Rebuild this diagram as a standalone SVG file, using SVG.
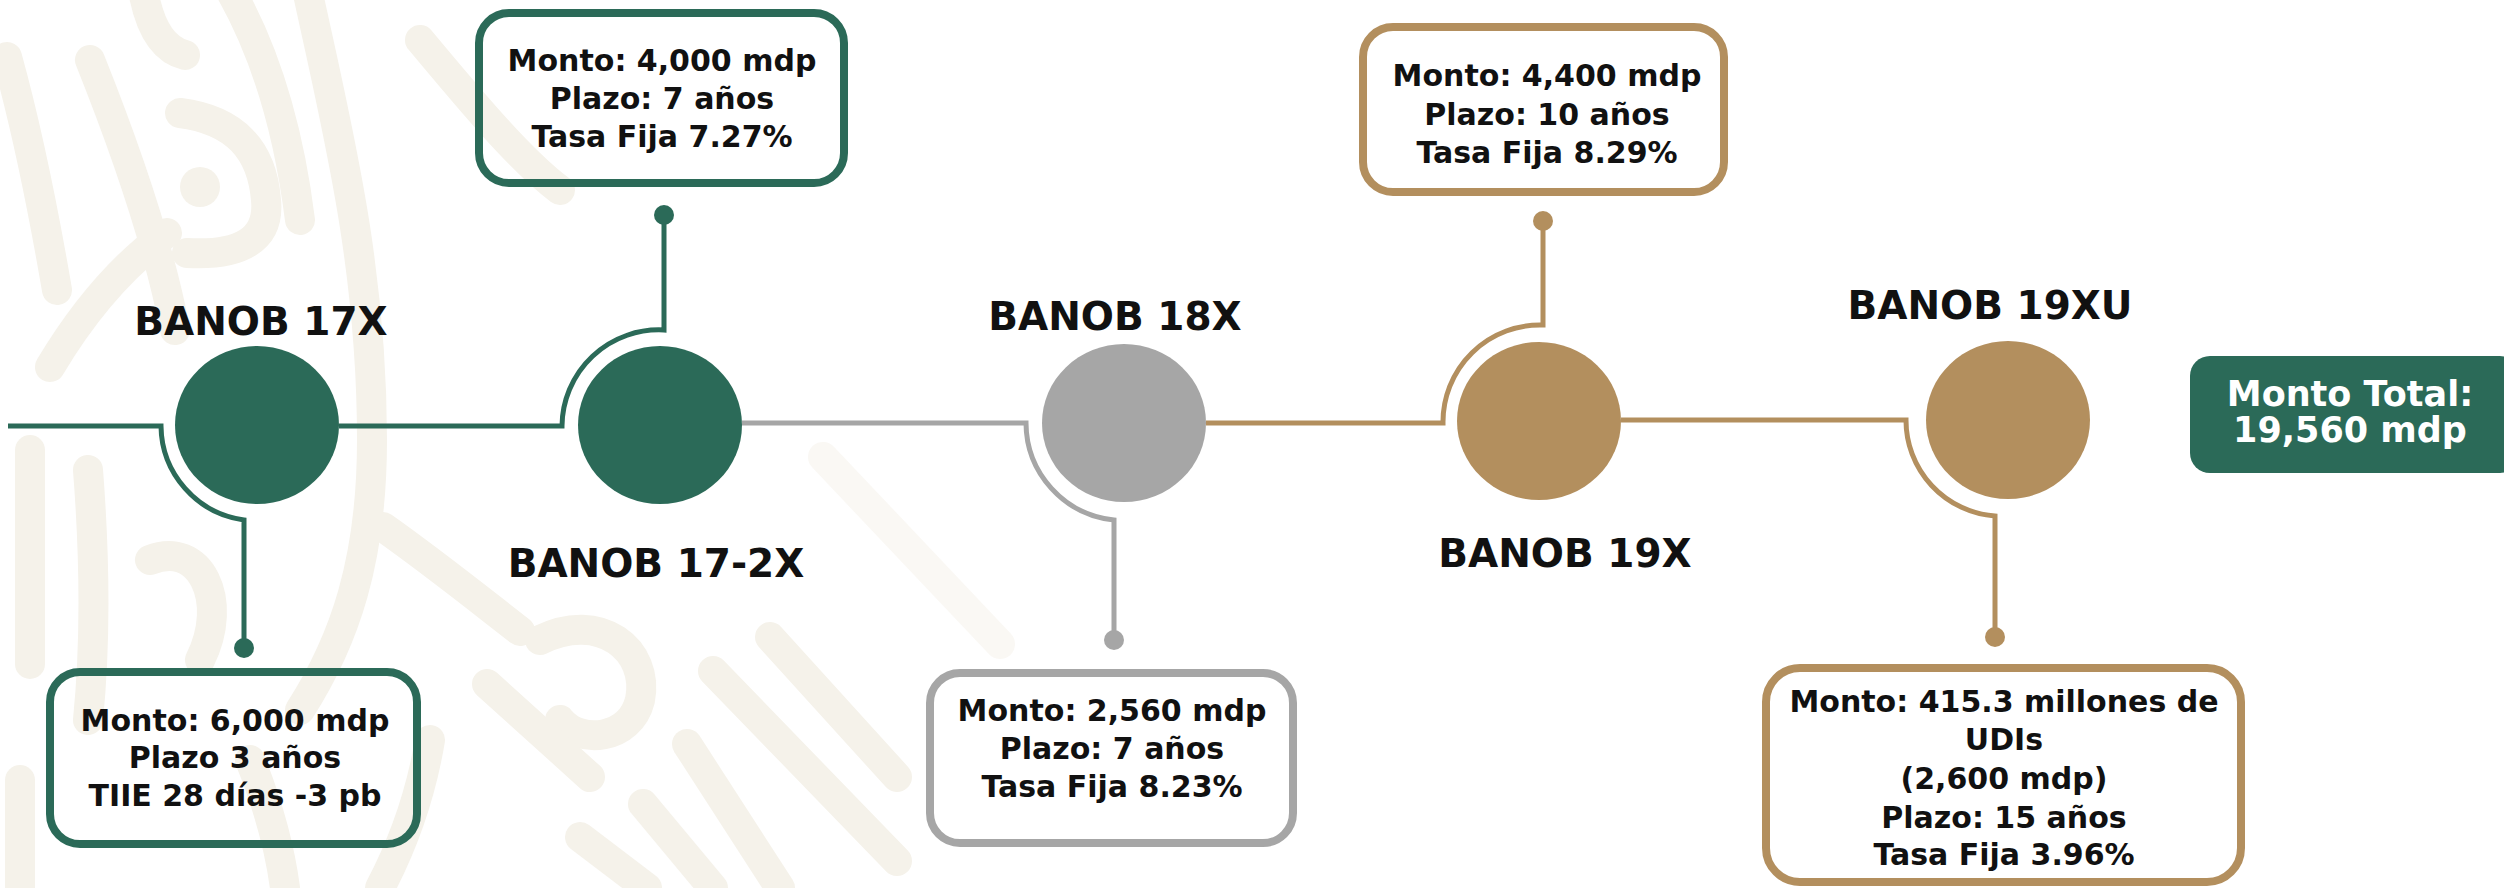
<svg xmlns="http://www.w3.org/2000/svg" width="2504" height="888" viewBox="0 0 2504 888">
<style>
.bg{fill:none;stroke:#F5F2EA;stroke-width:30;stroke-linecap:round;stroke-linejoin:round}
.box{fill:none;stroke-width:8}
.conn{fill:none;stroke-width:5}
.lbl{font-family:"DejaVu Sans",sans-serif;font-weight:700;font-size:39px;fill:#111;text-anchor:middle}
.txt{font-family:"DejaVu Sans",sans-serif;font-weight:700;font-size:30px;fill:#111;text-anchor:middle}
.tot{font-family:"DejaVu Sans",sans-serif;font-weight:700;font-size:35px;fill:#fff;text-anchor:middle}
.g{stroke:#2B6A58}
.gr{stroke:#A6A6A6}
.au{stroke:#B38F5E}
</style>
<rect width="2504" height="888" fill="#fff"/>
<g id="background">
<path class="bg" d="M305,-20 C335,120 372,260 372,440 C372,560 345,640 300,710"/>
<path class="bg" d="M180,113 C235,120 262,150 266,200 C270,240 240,256 187,253"/>
<circle cx="200" cy="187" r="20" fill="#F5F2EA"/>
<path class="bg" d="M143,-10 C150,30 165,50 185,55"/>
<path class="bg" d="M7,57 C30,140 45,220 57,290"/>
<path class="bg" d="M90,60 C130,160 160,250 175,330"/>
<path class="bg" d="M50,367 C90,300 130,260 167,233"/>
<path class="bg" d="M230,-10 C270,60 290,140 300,220"/>
<path class="bg" d="M30,450 L30,664"/>
<path class="bg" d="M88,470 C95,560 95,650 88,720"/>
<path class="bg" d="M20,780 L20,888"/>
<path class="bg" d="M150,560 C200,540 230,600 200,660"/>
<path class="bg" d="M383,527 C430,560 480,600 520,631"/>
<path class="bg" d="M420,40 C470,100 520,160 560,190"/>
<path class="bg" d="M770,637 L897,777"/>
<path class="bg" d="M713,671 L897,861"/>
<path class="bg" d="M687,744 L780,888"/>
<path class="bg" d="M643,804 L713,888"/>
<path class="bg" d="M823,457 L1000,644" opacity="0.5"/>
<path class="bg" d="M540,640 C600,610 650,650 640,700 C630,740 580,745 560,720"/>
<path class="bg" d="M487,684 L590,777"/>
<path class="bg" d="M580,837 L647,888"/>
<path class="bg" d="M430,740 C420,800 400,850 380,888"/>
<path class="bg" d="M250,760 C270,810 280,850 285,888"/>
</g>
<g id="connectors">
<path class="conn g" d="M8,426 L161,426 A96,96 0 0 0 244,520 L244,648"/>
<circle cx="244" cy="648" r="10" fill="#2B6A58"/>
<path class="conn g" d="M339,426 L562,426 A97,97 0 0 1 664,330 L664,215"/>
<circle cx="664" cy="215" r="10" fill="#2B6A58"/>
<path class="conn gr" d="M742,423 L1026,423 A98,98 0 0 0 1114,520 L1114,640"/>
<circle cx="1114" cy="640" r="10" fill="#A6A6A6"/>
<path class="conn au" d="M1206,423 L1443,423 A97,97 0 0 1 1543,325 L1543,221"/>
<circle cx="1543" cy="221" r="10" fill="#B38F5E"/>
<path class="conn au" d="M1621,420 L1906,420 A96,96 0 0 0 1995,516 L1995,637"/>
<circle cx="1995" cy="637" r="10" fill="#B38F5E"/>
</g>
<g id="node-banob-17x">
<ellipse cx="257" cy="425" rx="82" ry="79" fill="#2B6A58"/>
<text class="lbl" x="261" y="335">BANOB 17X</text>
<rect class="box g" x="50" y="672" width="367" height="172" rx="30"/>
<text class="txt" x="235" y="731">Monto: 6,000 mdp</text>
<text class="txt" x="235" y="768">Plazo 3 años</text>
<text class="txt" x="235" y="806">TIIE 28 días -3 pb</text>
</g>
<g id="node-banob-17-2x">
<ellipse cx="660" cy="425" rx="82" ry="79" fill="#2B6A58"/>
<text class="lbl" x="656" y="577">BANOB 17-2X</text>
<rect class="box g" x="479" y="13" width="365" height="170" rx="30"/>
<text class="txt" x="662" y="71">Monto: 4,000 mdp</text>
<text class="txt" x="662" y="109">Plazo: 7 años</text>
<text class="txt" x="662" y="147">Tasa Fija 7.27%</text>
</g>
<g id="node-banob-18x">
<ellipse cx="1124" cy="423" rx="82" ry="79" fill="#A6A6A6"/>
<text class="lbl" x="1115" y="330">BANOB 18X</text>
<rect class="box gr" x="930" y="673" width="363" height="170" rx="30"/>
<text class="txt" x="1112" y="721">Monto: 2,560 mdp</text>
<text class="txt" x="1112" y="759">Plazo: 7 años</text>
<text class="txt" x="1112" y="797">Tasa Fija 8.23%</text>
</g>
<g id="node-banob-19x">
<ellipse cx="1539" cy="421" rx="82" ry="79" fill="#B38F5E"/>
<text class="lbl" x="1565" y="567">BANOB 19X</text>
<rect class="box au" x="1363" y="27" width="361" height="165" rx="30"/>
<text class="txt" x="1547" y="86">Monto: 4,400 mdp</text>
<text class="txt" x="1547" y="125">Plazo: 10 años</text>
<text class="txt" x="1547" y="163">Tasa Fija 8.29%</text>
</g>
<g id="node-banob-19xu">
<ellipse cx="2008" cy="420" rx="82" ry="79" fill="#B38F5E"/>
<text class="lbl" x="1990" y="319">BANOB 19XU</text>
<rect class="box au" x="1766" y="668" width="475" height="214" rx="34"/>
<text class="txt" x="2004" y="712">Monto: 415.3 millones de</text>
<text class="txt" x="2004" y="750">UDIs</text>
<text class="txt" x="2004" y="789">(2,600 mdp)</text>
<text class="txt" x="2004" y="828">Plazo: 15 años</text>
<text class="txt" x="2004" y="865">Tasa Fija 3.96%</text>
</g>
<g id="node-monto-total">
<rect x="2190" y="356" width="330" height="117" rx="20" fill="#2B6A58"/>
<text class="tot" x="2350" y="406">Monto Total:</text>
<text class="tot" x="2350" y="442">19,560 mdp</text>
</g>
</svg>
